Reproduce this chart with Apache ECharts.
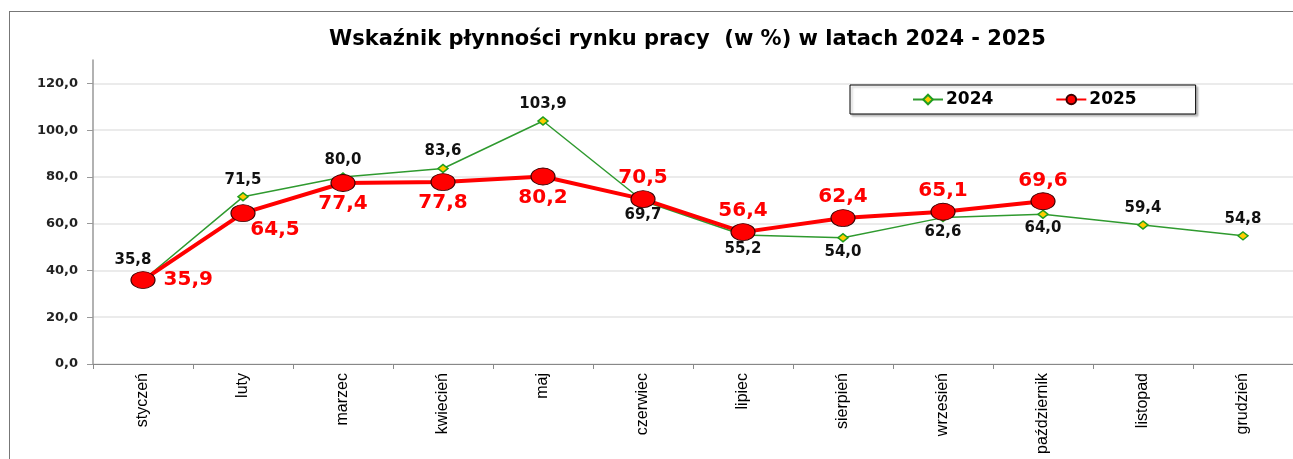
<!DOCTYPE html>
<html>
<head>
<meta charset="utf-8">
<script src="https://cdn.jsdelivr.net/npm/echarts@6/dist/echarts.min.js"></script>
<style>
  html, body { margin: 0; padding: 0; background: #fff; }
  #chart { position: absolute; left: 0; top: 0; width: 1293px; height: 459px; }
  #frame { position: absolute; left: 9px; top: 11px; width: 1400px; height: 600px;
           border: 1px solid #777; pointer-events: none; box-sizing: border-box; }
</style>
</head>
<body>
<div id="frame"></div>
<div id="chart"></div>
<script>
const categories = ['styczeń','luty','marzec','kwiecień','maj','czerwiec','lipiec','sierpień','wrzesień','październik','listopad','grudzień'];
const values2024 = [35.8, 71.5, 80.0, 83.6, 103.9, 69.7, 55.2, 54.0, 62.6, 64.0, 59.4, 54.8];
const values2025 = [35.9, 64.5, 77.4, 77.8, 80.2, 70.5, 56.4, 62.4, 65.1, 69.6, null, null];
const yTicks = [0, 20, 40, 60, 80, 100, 120];

// label placement (style only)
const pos2024 = ['top','top','top','top','top','bottom','bottom','bottom','bottom','bottom','top','top'];
const pos2025 = ['right','bottom','bottom','bottom','bottom','top','top','top','top','top','top','top'];

const fmt = v => Number(v).toFixed(1).replace('.', ',');

const data2024 = values2024.map((v, i) => ({
  value: v,
  label: {
    position: pos2024[i],
    distance: pos2024[i] === 'top' ? 5 : 2,
    offset: i === 0 ? [-10, -3] : [0, 0]
  }
}));
const data2025 = values2025.map((v, i) => ({
  value: v,
  label: {
    position: pos2025[i],
    distance: i === 0 ? 8 : 2,
    offset: i === 1 ? [32, -4] : [0, 0]
  }
}));

const chart = echarts.init(document.getElementById('chart'));
chart.setOption({
  animation: false,
  backgroundColor: 'transparent',
  title: {
    text: 'Wskaźnik płynności rynku pracy  (w %) w latach 2024 - 2025',
    left: 324,
    top: 24,
    textStyle: { fontFamily: 'DejaVu Sans', fontWeight: 'bold', fontSize: 21, color: '#000' }
  },
  legend: {
    left: 850,
    top: 85,
    padding: [6, 59, 6, 62],
    itemGap: 62,
    itemWidth: 30,
    itemHeight: 12,
    borderColor: '#000',
    borderWidth: 1,
    backgroundColor: '#fff',
    shadowColor: 'rgba(0,0,0,0.25)',
    shadowOffsetX: 2,
    shadowOffsetY: 2,
    shadowBlur: 2,
    textStyle: { fontFamily: 'DejaVu Sans', fontWeight: 'bold', fontSize: 17, color: '#000', padding: [0, 0, 0, -2] },
    data: ['2024', '2025']
  },
  grid: { left: 93, right: 0, top: 60, bottom: 95, containLabel: false },
  xAxis: {
    type: 'category',
    data: categories,
    boundaryGap: true,
    axisLine: { lineStyle: { color: '#888', width: 1 } },
    axisTick: { show: true, length: 5, lineStyle: { color: '#888' } },
    axisLabel: {
      rotate: 90,
      margin: 9,
      fontFamily: 'Liberation Sans',
      fontSize: 16,
      color: '#000',
      interval: 0
    },
    splitLine: { show: false }
  },
  yAxis: {
    type: 'value',
    min: 0,
    max: 130,
    interval: 20,
    axisLine: { show: true, lineStyle: { color: '#999', width: 1.5 } },
    axisTick: { show: true, length: 6, lineStyle: { color: '#999' } },
    axisLabel: {
      margin: 15,
      showMaxLabel: false,
      fontFamily: 'DejaVu Sans',
      fontWeight: 'bold',
      fontSize: 13,
      color: '#222',
      formatter: v => yTicks.includes(v) ? fmt(v) : ''
    },
    splitLine: { show: true, showMaxLine: false, lineStyle: { color: '#e4e4e4', width: 1.5 } }
  },
  series: [
    {
      name: '2024',
      type: 'line',
      data: data2024,
      symbol: 'diamond',
      symbolSize: [10, 8],
      z: 2,
      lineStyle: { color: '#2f9a2f', width: 1.5 },
      itemStyle: { color: '#ffcc00', borderColor: '#1f9e1f', borderWidth: 1.5 },
      label: {
        show: true,
        formatter: p => fmt(p.value),
        fontFamily: 'DejaVu Sans',
        fontWeight: 'bold',
        fontSize: 15,
        color: '#111'
      }
    },
    {
      name: '2025',
      type: 'line',
      data: data2025,
      symbol: 'circle',
      symbolSize: [24, 17],
      z: 3,
      lineStyle: { color: '#ff0000', width: 4 },
      itemStyle: { color: '#ff0000', borderColor: '#3a0000', borderWidth: 1 },
      label: {
        show: true,
        formatter: p => fmt(p.value),
        fontFamily: 'DejaVu Sans',
        fontWeight: 'bold',
        fontSize: 20,
        color: '#ff0000'
      }
    }
  ]
});
</script>
</body>
</html>
